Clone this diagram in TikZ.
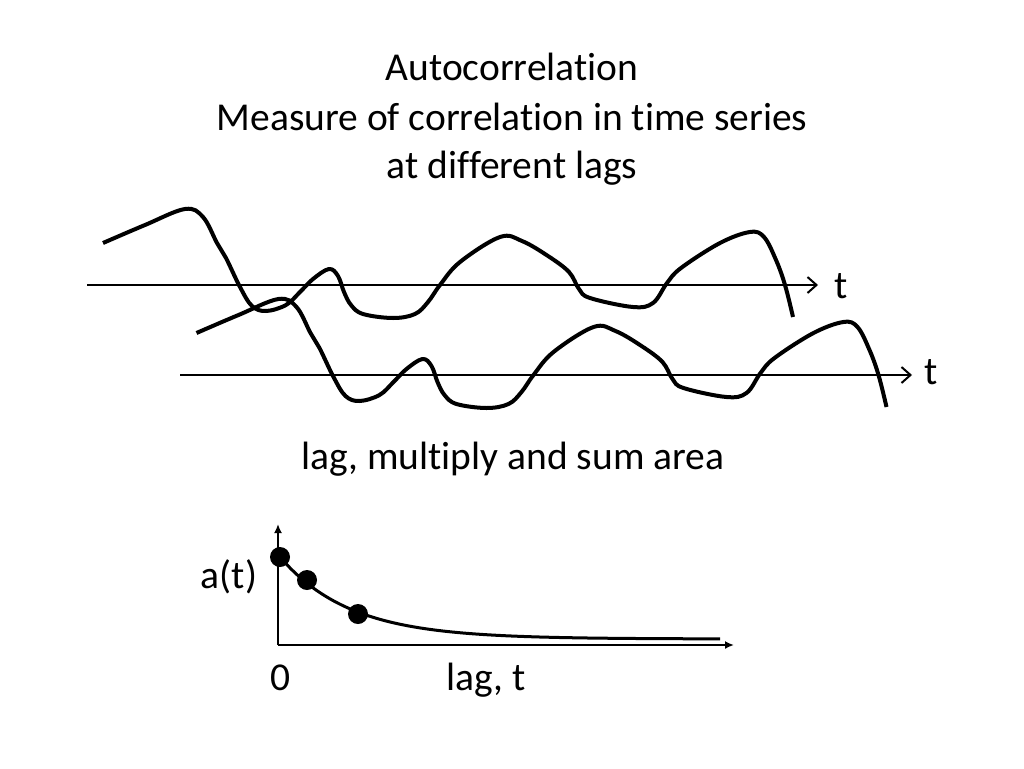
\documentclass[tikz,border=0pt]{standalone}
\usepackage{fontspec}
\setmainfont{Carlito}[Ligatures={NoCommon}]
\usetikzlibrary{arrows.meta}
\tikzset{
  lbl/.style={font=\fontsize{39.5}{48.5}\selectfont, inner sep=0pt, anchor=base},
  wave/.style={line width=4pt, line cap=butt, line join=round},
  taxis/.style={line width=2pt, -{Straight Barb[length=9pt,width=16pt]}},
  baxis/.style={line width=2pt, -{Latex[length=9pt,width=8pt]}},
  decay/.style={line width=3pt},
  dot/.style={circle, fill=black, inner sep=0pt, minimum size=20pt}
}
\newcommand{\wavepath}{plot[smooth, tension=0.6] coordinates {
 (103,243) (145,225) (185,209) (203,217) (217,243) (226,258) (240,287) (252,306)
 (266,311) (286,305) (300,292) (313,279) (329,269) (338,276) (344,292) (351,305)
 (363,314) (393,318) (415,314) (428,302) (440,285) (460,262) (500,237) (522,241)
 (548,256) (569,272) (579,289) (590,298) (633,307) (653,303) (667,283) (681,268)
 (720,243) (750,232) (764,237) (776,260) (785,285) (793,317)}}
\begin{document}
\begin{tikzpicture}[x=1pt,y=-1pt]
\useasboundingbox[fill=white] (0,0) rectangle (1024,768);
% title
\node[lbl] (title1) at (512,81) {Autocorrelation};
\node[lbl] (title2) at (512,130) {Measure of correlation in time series};
\node[lbl] (title3) at (512,178) {at different lags};
% time series axes
\coordinate (a1s) at (87,285);
\coordinate (a1e) at (818,285);
\coordinate (a2s) at (180,375);
\coordinate (a2e) at (912,375);
\draw[taxis] (a1s) -- (a1e);
\draw[taxis] (a2s) -- (a2e);
\node[lbl] (t1) at (841,298) {t};
\node[lbl] (t2) at (931,384) {t};
% waves
\draw[wave] \wavepath;
\begin{scope}[shift={(93.5,90)}]
\draw[wave] \wavepath;
\end{scope}
% caption
\node[lbl] (cap) at (513,469) {lag, multiply and sum area};
% autocorrelation chart
\coordinate (o) at (278,645);
\coordinate (ytop) at (278,524);
\coordinate (xend) at (734,645);
\draw[baxis] (o) -- (ytop);
\draw[baxis] (o) -- (xend);
\draw[decay] plot[domain=280:720, samples=120] (\x, {639-82*exp(-(\x-280)/70)});
\node[dot] (d1) at (280,557) {};
\node[dot] (d2) at (307,580) {};
\node[dot] (d3) at (358,614) {};
\node[lbl] (at) at (229,588) {a(t)};
\node[lbl] (zero) at (281,690) {0};
\node[lbl] (lagt) at (486,690) {lag, t};
\end{tikzpicture}
\end{document}
